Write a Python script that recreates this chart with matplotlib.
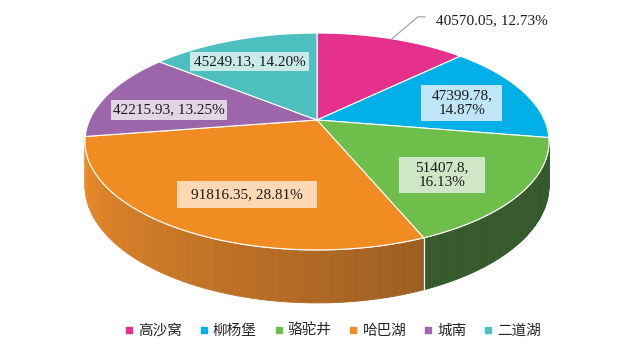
import numpy as np
import matplotlib.pyplot as plt
from matplotlib.patches import Polygon, Rectangle
from matplotlib.lines import Line2D
import matplotlib.colors as mcolors

plt.rcParams['font.family'] = ['Noto Sans CJK SC', 'DejaVu Sans']

names = ["高沙窝", "柳杨堡", "骆驼井", "哈巴湖", "城南", "二道湖"]
values = [40570.05, 47399.78, 51407.8, 91816.35, 42215.93, 45249.13]
colors = ["#E5318C", "#00B0E6", "#6DBE4A", "#F18C23", "#9D66AB", "#4DBFBF"]
box_colors = ["white", "#BFE5F6", "#D0E7C7", "#FDD8B5", "#E3D4E7", "#CAEBEA"]

# label placement: radius fraction, angle shift (deg), wrapped, box padding (px)
label_r = [1.0, 0.68, 0.69, 0.68, 0.67, 0.71]
label_shift = [0, 3, 5.5, -6, -6.5, -2.5]
label_wrap = [False, True, True, False, False, False]
label_hpad = [0, 10, 16, 14, 2, 3.5]
label_vpad = [0, 4, 4, 7, 3.5, 3]

# fake 3d pie geometry, pixels
cx, cy = 317, 120
a, b = 227.4, 104.2
k = 0.198
h = 42.5


def proj(t, r=1.0, z=0.0):
    t = np.radians(t)
    u = r * np.sin(t)
    v = -r * np.cos(t)
    s = 1.0 / (1.0 - k * v)
    return cx + a * u * s, cy + (b * v + z) * s


fig = plt.figure(figsize=(6.26, 3.58), dpi=100)
ax = fig.add_axes([0, 0, 1, 1])
ax.set_xlim(0, 626)
ax.set_ylim(358, 0)
ax.axis("off")

total = sum(values)
angles = np.cumsum([0] + [v / total * 360 for v in values])

# side wall, only the front half can be seen
t_lo = np.degrees(np.arccos(-k))
t_hi = 360 - t_lo
side_dark = {2: ("#3A5E30", "#35582C"), 3: ("#EE8D2A", "#70441F")}
for i in range(len(values)):
    t0 = max(angles[i], t_lo)
    t1 = min(angles[i + 1], t_hi)
    if t1 <= t0:
        continue
    c_hi, c_lo = side_dark.get(i, (colors[i], colors[i]))
    c_hi = np.array(mcolors.to_rgb(c_hi))
    c_lo = np.array(mcolors.to_rgb(c_lo))
    steps = np.linspace(t0, t1, 60)
    for j in range(len(steps) - 1):
        f = (steps[j] - t_lo) / (t_hi - t_lo)
        col = c_lo * (1 - f) + c_hi * f
        ts = np.linspace(steps[j], steps[j + 1], 4)
        top = [proj(t) for t in ts]
        bot = [proj(t, 1.0, h) for t in ts[::-1]]
        ax.add_patch(Polygon(top + bot, closed=True, facecolor=col,
                             edgecolor=col, lw=0.6, zorder=1))
    # white seam on the side
    for t in (t0, t1):
        if t_lo < t < t_hi:
            x0, y0 = proj(t)
            x1, y1 = proj(t, 1.0, h)
            ax.plot([x0, x1], [y0, y1], color="white", lw=0.8, zorder=2)

# rim between top and side
ts = np.linspace(t_lo, t_hi, 200)
rim = np.array([proj(t) for t in ts])
ax.plot(rim[:, 0], rim[:, 1], color="#FFF3E0", lw=0.8, zorder=2)

# top surface
for i in range(len(values)):
    ts = np.linspace(angles[i], angles[i + 1], 100)
    pts = [(cx, cy)] + [proj(t) for t in ts]
    ax.add_patch(Polygon(pts, closed=True, facecolor=colors[i],
                         edgecolor="white", lw=0.8, zorder=3))

# data labels
texts = []
for i in range(len(values)):
    pct = values[i] / total * 100
    sep = ",\n" if label_wrap[i] else ", "
    txt = "%s%s%.2f%%" % (str(values[i]), sep, pct)
    mid = (angles[i] + angles[i + 1]) / 2 + label_shift[i]
    if i == 0:
        x0, y0 = proj(mid)
        x1, y1 = x0 + 26, y0 - 22
        x2 = x1 + 7
        ax.plot([x0, x1, x2], [y0, y1, y1], color="#A6A6A6", lw=0.9, zorder=4)
        ax.text(x2 + 11, y1 + 4, txt, ha="left", va="center", fontsize=11,
                family="Liberation Serif", color="#1A1A1A", zorder=5)
        continue
    x, y = proj(mid, label_r[i])
    t = ax.text(x, y, txt, ha="center", va="center", fontsize=11,
                family="Liberation Serif", color="#1A1A1A", linespacing=1.15,
                zorder=5)
    texts.append((i, t))

# label boxes sized around the text
fig.canvas.draw()
renderer = fig.canvas.get_renderer()
inv = ax.transData.inverted()
for i, t in texts:
    bb = t.get_window_extent(renderer)
    (xa, ya), (xb, yb) = inv.transform([[bb.x0, bb.y0], [bb.x1, bb.y1]])
    x_left, x_right = min(xa, xb), max(xa, xb)
    y_top, y_bot = min(ya, yb), max(ya, yb)
    ax.add_patch(Rectangle((x_left - label_hpad[i], y_top - label_vpad[i]),
                           x_right - x_left + 2 * label_hpad[i],
                           y_bot - y_top + 2 * label_vpad[i],
                           facecolor=box_colors[i], edgecolor="none", zorder=4))

handles = [Line2D([], [], marker="s", linestyle="", color=c, markersize=4)
           for c in colors]
fig.legend(handles, names, loc="center", bbox_to_anchor=(333 / 626, 1 - 331 / 358),
           ncol=6, frameon=False, fontsize=10.5, handlelength=0.6,
           handletextpad=0.32, columnspacing=1.2, labelcolor="#262626")

fig.savefig("out.png", dpi=100)
